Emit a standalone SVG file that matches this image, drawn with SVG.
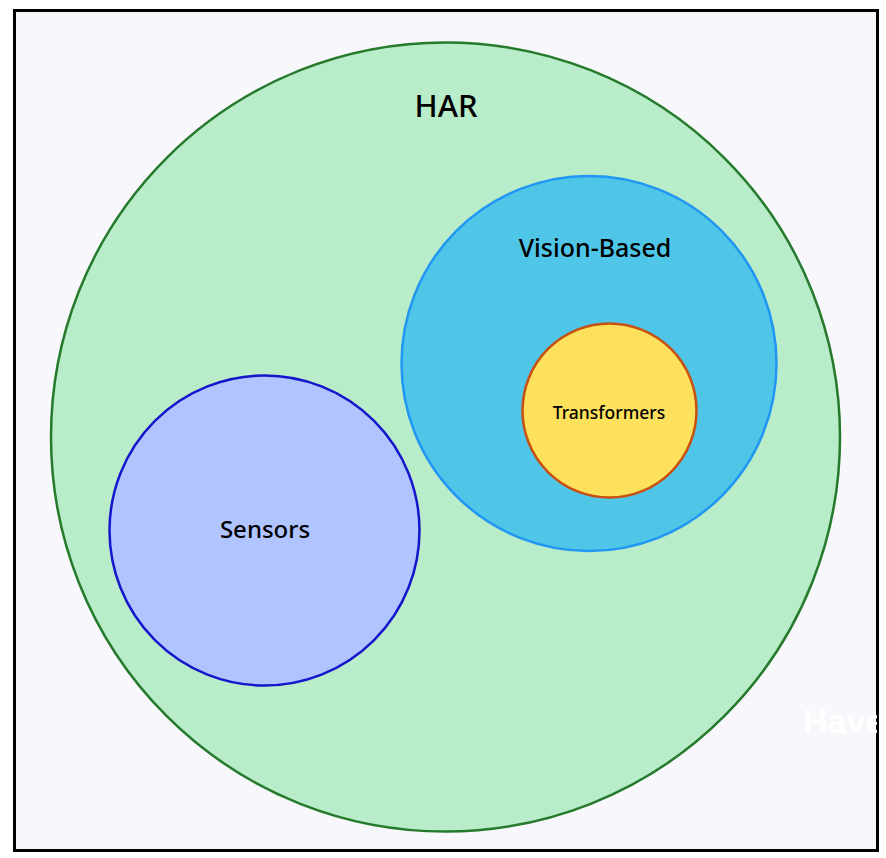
<svg xmlns="http://www.w3.org/2000/svg" width="886" height="858" viewBox="0 0 886 858">
<style>
text{font-family:"Noto Sans","Open Sans","DejaVu Sans",sans-serif;text-anchor:middle;fill:#000;font-weight:500}
.c{stroke-width:2.5}
</style>
<defs><clipPath id="clip"><rect x="15" y="11" width="862" height="839"/></clipPath></defs>
<rect x="0" y="0" width="886" height="858" fill="#ffffff"/>
<rect x="14.5" y="10.5" width="863" height="840" fill="#f8f8fc" stroke="#000" stroke-width="3"/>
<g clip-path="url(#clip)">
<g id="har"><circle class="c" cx="445.5" cy="437" r="394.5" fill="#b9ecc8" stroke="#257a2c"/><text x="446" y="117" font-size="31">HAR</text></g>
<g id="vision"><circle class="c" cx="589" cy="363.5" r="187.5" fill="#4fc6e8" stroke="#2196f3"/><text x="595" y="257" font-size="25">Vision-Based</text></g>
<g id="transformers"><circle class="c" cx="609.5" cy="410.5" r="87" fill="#fde05c" stroke="#c85010"/><text x="609" y="419" font-size="17.5">Transformers</text></g>
<g id="sensors"><circle class="c" cx="264.5" cy="530.5" r="155" fill="#b0c4ff" stroke="#1515cc"/><text x="265" y="538" font-size="24">Sensors</text></g>
<text x="803" y="733" font-size="34" style="text-anchor:start;fill:#ffffff;font-family:'Liberation Sans',Arial,sans-serif;font-weight:700">Have</text>
</g>
<g id="connectors"/>
</svg>
